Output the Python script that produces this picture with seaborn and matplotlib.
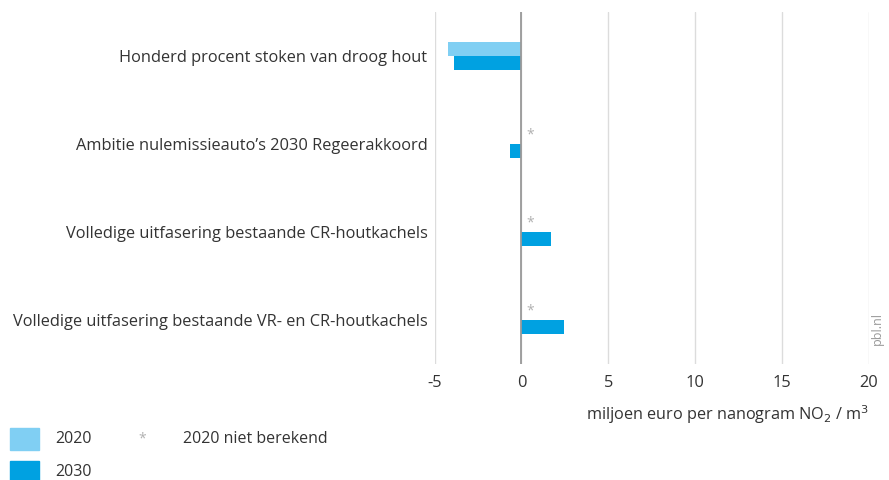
import matplotlib
matplotlib.use("Agg")
import matplotlib.pyplot as plt
import seaborn as sns
import pandas as pd
import numpy as np
from matplotlib.patches import Rectangle

categories = [
    "Honderd procent stoken van droog hout",
    "Ambitie nulemissieauto\u2019s 2030 Regeerakkoord",
    "Volledige uitfasering bestaande CR-houtkachels",
    "Volledige uitfasering bestaande VR- en CR-houtkachels",
]
values_2020 = [-4.25, np.nan, np.nan, np.nan]
values_2030 = [-3.9, -0.65, 1.7, 2.45]
series = ["2020", "2030"]
xticks = [-5, 0, 5, 10, 15, 20]

colors = {"2020": "#80cff3", "2030": "#00a1e1"}
text_color = "#333333"

df = pd.DataFrame({
    "categorie": categories * 2,
    "jaar": ["2020"] * 4 + ["2030"] * 4,
    "waarde": values_2020 + values_2030,
})

sns.set_theme(style="white")
plt.rcParams["font.family"] = ["Open Sans", "DejaVu Sans"]

fig = plt.figure(figsize=(8.89, 4.8), dpi=100)
ax = fig.add_axes([0.4888, 0.2417, 0.9775 - 0.4888, 0.975 - 0.2417])

sns.barplot(data=df, y="categorie", x="waarde", hue="jaar", order=categories,
            hue_order=series, palette=colors, orient="h", width=0.32,
            ax=ax, legend=False, saturation=1, linewidth=0)

ax.set_xlim(-5, 20)
ax.set_ylim(3.5, -0.5)
ax.set_xticks(xticks)
ax.set_xticklabels([str(t) for t in xticks])
ax.grid(axis="x", color="#dcdcdc", lw=1)
ax.grid(axis="y", visible=False)
ax.set_axisbelow(True)
ax.axvline(0, color="#999999", lw=1.3, zorder=3)
for s in ax.spines.values():
    s.set_visible(False)
ax.tick_params(axis="both", length=0, labelsize=11.8, colors=text_color)
ax.tick_params(axis="x", pad=8)
ax.tick_params(axis="y", pad=5)
ax.set_ylabel("")
ax.set_xlabel("miljoen euro per nanogram NO$_2$ / m$^3$", loc="right",
              fontsize=11.7, color=text_color, labelpad=9)

# asterisks for missing 2020 values
for i, v in enumerate(values_2020):
    if np.isnan(v):
        ax.text(0.5, i - 0.1, "*", color="#b0b0b0", fontsize=10,
                ha="center", va="center")

# pbl.nl
fig.text(0.987, 0.315, "pbl.nl", rotation=90, fontsize=9, color="#999999",
         ha="center", va="center")

# legend
fig.patches.append(Rectangle((0.01125, 0.0625), 0.0326, 0.0458,
                             transform=fig.transFigure, color=colors["2020"]))
fig.patches.append(Rectangle((0.01125, -0.006), 0.0326, 0.0456,
                             transform=fig.transFigure, color=colors["2030"]))
fig.text(0.062, 0.0854, "2020", fontsize=11.5, color=text_color, va="center")
fig.text(0.062, 0.0167, "2030", fontsize=11.5, color=text_color, va="center")
fig.text(0.16, 0.0854, "*", fontsize=10, color="#b0b0b0", va="center", ha="center")
fig.text(0.206, 0.0854, "2020 niet berekend", fontsize=11.5, color=text_color,
         va="center")

fig.savefig("out.png", dpi=100)
